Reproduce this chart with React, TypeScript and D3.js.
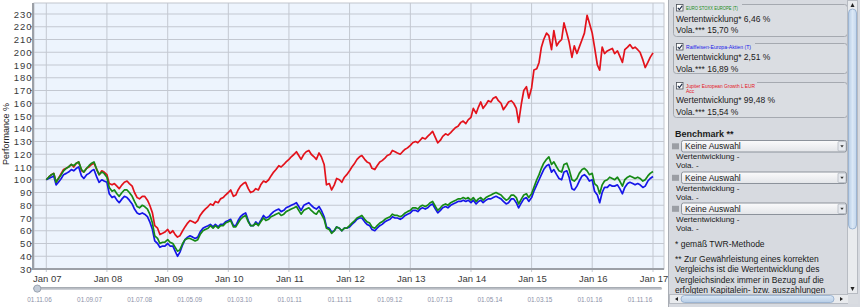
import React from 'react';
import * as d3 from 'd3';

// ---------- DATA ----------
// Semi-monthly observations (1st and 15th of each month), Jan 2007 .. Jan 2017
const obsCount = 241;
const obsDates: Date[] = d3.range(obsCount).map(
  (i) => new Date(2007, Math.floor(i / 2), i % 2 === 0 ? 1 : 15)
);

// Jupiter European Growth L EUR Acc (red)
const jupiterValues: number[] = [
  100, 102, 104, 105, 98, 101, 105, 108, 109, 110, 112, 110, 113, 114, 107, 106, 109, 110, 112, 113, 108, 104, 107, 106,
  104, 97, 96, 97, 95, 93, 96, 98, 99, 97, 95, 90, 86, 85, 87, 87, 84, 80, 74, 64, 62, 57, 58, 59,
  61, 58, 60, 57, 55, 56, 60, 63, 66, 68, 67, 66, 68, 72, 75, 77, 79, 81, 80, 83, 82, 85, 86, 88,
  90, 92, 87, 88, 92, 95, 97, 98, 93, 90, 91, 93, 92, 96, 99, 98, 100, 103, 106, 108, 111, 110, 112, 114,
  116, 118, 120, 122, 119, 116, 120, 122, 123, 120, 118, 116, 121, 118, 112, 96, 97, 92, 96, 101, 100, 98, 102, 104,
  107, 110, 113, 116, 118, 119, 116, 114, 113, 109, 108, 111, 114, 115, 117, 119, 120, 123, 122, 121, 120, 122, 124, 125,
  127, 129, 130, 129, 131, 133, 132, 134, 136, 138, 133, 129, 131, 134, 136, 135, 137, 139, 141, 142, 145, 146, 144, 147,
  149, 156, 152, 157, 161, 156, 159, 162, 161, 164, 165, 162, 160, 155, 158, 161, 162, 160, 156, 145, 160, 170, 173, 164,
  172, 186, 187, 192, 204, 210, 215, 213, 202, 217, 205, 208, 210, 223, 215, 208, 196, 205, 199, 204, 210, 215, 229, 223,
  215, 204, 190, 186, 204, 199, 201, 202, 203, 199, 201, 197, 192, 202, 204, 206, 203, 204, 202, 200, 194, 188, 192, 196,
  199.5,
];

// EURO STOXX EUROPE (T) (green)
const euroStoxxValues: number[] = [
  100, 102, 104, 105, 98, 101, 104, 107, 109, 110, 112, 111, 113, 114, 108, 106, 109, 111, 113, 114, 108, 104, 106, 105,
  102, 94, 91, 92, 89, 87, 90, 92, 92, 90, 87, 83, 79, 78, 80, 79, 77, 73, 66, 56, 54, 50, 51, 51,
  53, 51, 50, 47, 44, 45, 50, 53, 54, 54, 53, 52, 53, 57, 60, 61, 62, 64, 62, 64, 62, 64, 64, 66,
  67, 68, 63, 63, 66, 69, 71, 72, 67, 64, 64, 66, 64, 67, 70, 68, 69, 71, 72, 73, 74, 72, 73, 75,
  76, 77, 78, 79, 76, 73, 76, 77, 78, 76, 74, 73, 76, 73, 69, 62, 61, 58, 60, 63, 62, 60, 62, 62,
  64, 66, 68, 70, 71, 72, 69, 67, 66, 63, 62, 64, 66, 67, 69, 70, 71, 73, 72, 72, 71, 72, 74, 75,
  76, 78, 78, 77, 79, 80, 79, 80, 82, 83, 79, 76, 78, 80, 81, 80, 82, 83, 84, 85, 85, 86, 85, 86,
  84, 86, 83, 85, 86, 84, 86, 87, 88, 89, 90, 89, 88, 86, 84, 85, 88, 88, 86, 81, 85, 88, 89, 86,
  89, 94, 100, 104, 109, 113, 116, 118, 112, 114, 110, 107, 106, 112, 113, 108, 100, 99, 101, 105, 108, 109, 107, 104,
  105, 97, 95, 89, 96, 99, 100, 102, 101, 100, 102, 99, 95, 100, 102, 103, 102, 101, 102, 101, 99, 100, 103, 105,
  106.5,
];

// Raiffeisen-Europa-Aktien (T) (blue)
const raiffeisenValues: number[] = [
  100, 101, 102, 103, 96, 98, 101, 104, 105, 106, 108, 107, 109, 110, 103, 101, 104, 105, 107, 108, 102, 98, 100, 99,
  98, 89, 86, 87, 84, 82, 85, 87, 86, 84, 81, 77, 74, 73, 74, 73, 71, 67, 61, 52, 50, 47, 48, 48,
  50, 48, 48, 44, 40, 43, 49, 53, 55, 56, 55, 54, 55, 59, 62, 63, 64, 65, 63, 65, 63, 65, 65, 67,
  68, 69, 64, 64, 68, 71, 73, 74, 68, 64, 64, 67, 65, 68, 72, 70, 71, 73, 75, 76, 77, 75, 76, 78,
  79, 80, 81, 82, 79, 76, 80, 81, 82, 80, 78, 77, 79, 76, 71, 63, 62, 59, 60, 63, 62, 60, 62, 62,
  63, 65, 67, 69, 70, 70, 67, 65, 64, 61, 60, 62, 64, 65, 67, 68, 69, 71, 70, 70, 69, 70, 72, 73,
  74, 76, 76, 75, 77, 78, 77, 78, 80, 81, 77, 74, 76, 78, 79, 78, 80, 81, 82, 83, 83, 84, 83, 84,
  82, 84, 81, 83, 84, 82, 84, 85, 85, 86, 87, 86, 85, 83, 81, 82, 85, 85, 82, 78, 82, 85, 86, 83,
  86, 91, 96, 100, 104, 108, 111, 112, 106, 108, 104, 101, 100, 106, 107, 102, 93, 92, 95, 99, 103, 104, 102, 99,
  100, 91, 88, 82, 90, 94, 94, 96, 95, 95, 96, 93, 89, 94, 97, 98, 97, 96, 97, 96, 94, 95, 99, 101,
  102.5,
];

const yTickValues: number[] = [30, 40, 50, 60, 70, 80, 90, 100, 110, 120, 130, 140, 150, 160, 170, 180, 190, 200, 210, 220, 230];
const xTickYears: number[] = [2007, 2008, 2009, 2010, 2011, 2012, 2013, 2014, 2015, 2016, 2017];
const sliderLabels: string[] = [
  '01.11.06', '01.09.07', '01.07.08', '01.05.09', '01.03.10', '01.01.11', '01.11.11',
  '01.09.12', '01.07.13', '01.05.14', '01.03.15', '01.01.16', '01.11.16',
];

const fundNames: string[] = ['EURO STOXX EUROPE (T)', 'Raiffeisen-Europa-Aktien (T)', 'Jupiter European Growth L EUR'];
const fundPerf: string[] = ['6,46', '2,51', '99,48'];
const fundVola: string[] = ['15,70', '16,89', '15,54'];
const footnoteLines: string[] = [
  '** Zur Gewährleistung eines korrekten',
  'Vergleichs ist die Wertentwicklung des',
  'Vergleichsindex immer in Bezug auf die',
  'erfolgten Kapitalein- bzw. auszahlungen',
];

const RED = '#e3121b';
const GREEN = '#168a16';
const BLUE = '#1616e8';
const FONT = '"Liberation Sans", Arial, sans-serif';

export default function App() {
  const W = 860;
  const H = 307;
  const plot = { left: 34, top: 3, right: 664, bottom: 269 };

  const x = d3.scaleTime().domain([new Date(2007, 0, 1), new Date(2017, 0, 1)]).range([46.3, 653]);
  const y = d3.scaleLinear().domain([30, 230]).range([269, 14]);
  const sliderX = d3.scaleLinear().domain([0, sliderLabels.length - 1]).range([39.5, 640]);

  const line = d3
    .line<number>()
    .x((_, i) => x(obsDates[i]))
    .y((v) => y(v));

  const series = [
    { values: jupiterValues, color: RED },
    { values: raiffeisenValues, color: BLUE },
    { values: euroStoxxValues, color: GREEN },
  ];

  const gridColor = '#c3c8d1';
  const panelBg = '#d7dae0';

  // fund boxes geometry
  const boxes = [
    { top: 4, bottom: 36, color: GREEN, legendEnd: 742, titleLen: 52, perfY: 21.5, volaY: 33 },
    { top: 43, bottom: 73, color: BLUE, legendEnd: 755, titleLen: 65, perfY: 60, volaY: 71.5 },
    { top: 82, bottom: 117, color: RED, legendEnd: 757, titleLen: 69, perfY: 103.3, volaY: 115 },
  ];
  const dropdowns = [140, 171.5, 202.5];
  const benchTexts = [
    [159.3, 168.2],
    [190.8, 199.7],
    [221.8, 230.7],
  ];

  return (
    <svg
      width={W}
      height={H}
      style={{ position: 'absolute', left: 0, top: 0, display: 'block', fontFamily: FONT }}
    >
      <defs>
        <clipPath id="plotClip">
          <rect x={plot.left} y={plot.top} width={plot.right - plot.left} height={plot.bottom - plot.top} />
        </clipPath>
        <clipPath id="panelClip">
          <rect x={669} y={0} width={178} height={294} />
        </clipPath>
        <linearGradient id="ddGrad" x1="0" y1="0" x2="0" y2="1">
          <stop offset="0" stopColor="#fbfbfc" />
          <stop offset="1" stopColor="#e3e5e9" />
        </linearGradient>
        <linearGradient id="thumbV" x1="0" y1="0" x2="1" y2="0">
          <stop offset="0" stopColor="#b7cde6" />
          <stop offset="0.5" stopColor="#dbe8f6" />
          <stop offset="1" stopColor="#c3d6ec" />
        </linearGradient>
        <linearGradient id="thumbH" x1="0" y1="0" x2="0" y2="1">
          <stop offset="0" stopColor="#dbe8f6" />
          <stop offset="1" stopColor="#b7cde6" />
        </linearGradient>
        <linearGradient id="trackGrad" x1="0" y1="0" x2="0" y2="1">
          <stop offset="0" stopColor="#9ea3ab" />
          <stop offset="1" stopColor="#d5d8dd" />
        </linearGradient>
      </defs>

      <rect x={0} y={0} width={W} height={H} fill="#ffffff" />

      {/* plot background */}
      <rect x={plot.left} y={plot.top} width={plot.right - plot.left} height={plot.bottom - plot.top} fill="#edf4fd" />

      {/* horizontal grid */}
      {yTickValues.map((v) => (
        <line key={'hg' + v} x1={plot.left} x2={plot.right} y1={y(v)} y2={y(v)} stroke={gridColor} strokeWidth={1} />
      ))}
      {/* vertical grid */}
      {xTickYears.map((yr) => (
        <line
          key={'vg' + yr}
          x1={x(new Date(yr, 0, 1))}
          x2={x(new Date(yr, 0, 1))}
          y1={plot.top}
          y2={plot.bottom + 3}
          stroke={gridColor}
          strokeWidth={1}
        />
      ))}

      {/* frame */}
      <rect
        x={plot.left}
        y={plot.top}
        width={plot.right - plot.left}
        height={plot.bottom - plot.top}
        fill="none"
        stroke="#c2c6cd"
        strokeWidth={1}
      />
      <line x1={plot.left - 1} x2={plot.left - 1} y1={plot.top} y2={plot.bottom + 1} stroke="#9ca0a7" strokeWidth={2} />
      <line x1={plot.left - 1} x2={plot.right} y1={plot.bottom} y2={plot.bottom} stroke="#9ca0a7" strokeWidth={2} />
      {yTickValues.map((v) => (
        <line key={'yt' + v} x1={plot.left - 4} x2={plot.left - 2} y1={y(v)} y2={y(v)} stroke="#888" strokeWidth={1} />
      ))}

      {/* series */}
      <g clipPath="url(#plotClip)">
        {series.map((s, i) => (
          <path
            key={i}
            d={line(s.values) || ''}
            fill="none"
            stroke={s.color}
            strokeWidth={1.7}
            strokeLinejoin="round"
          />
        ))}
      </g>

      {/* y tick labels */}
      {yTickValues.map((v) => (
        <text
          key={'yl' + v}
          x={32.5}
          y={y(v) + 3.5}
          textAnchor="end"
          fontSize={9.5}
          letterSpacing={1}
          fill="#3a3a3a"
        >
          {v}
        </text>
      ))}
      <text transform={`translate(9,134) rotate(-90)`} textAnchor="middle" fontSize={9} fill="#222">
        Performance %
      </text>

      {/* x tick labels */}
      {xTickYears.map((yr) => (
        <text
          key={'xl' + yr}
          x={x(new Date(yr, 0, 1)) + 1}
          y={282}
          textAnchor="middle"
          fontSize={9.5}
          fill="#3a3a3a"
        >
          {'Jan ' + String(yr).slice(2)}
        </text>
      ))}

      {/* slider */}
      <rect x={33} y={287} width={629} height={3} rx={1.5} fill="url(#trackGrad)" />
      <circle cx={37.3} cy={288.6} r={3.6} fill="#c3ccd8" stroke="#8e97a4" strokeWidth={0.8} />
      {sliderLabels.map((lbl, i) => (
        <text key={lbl} x={sliderX(i)} y={301.5} textAnchor="middle" fontSize={6.4} fill="#8c91a8">
          {lbl}
        </text>
      ))}

      {/* ---------- right panel ---------- */}
      <rect x={668} y={0} width={192} height={H} fill={panelBg} />
      <line x1={668.5} x2={668.5} y1={0} y2={H} stroke="#a9adb4" />
      <g clipPath="url(#panelClip)" fontSize={8.5} fill="#1a1a1a">
        {boxes.map((b, i) => (
          <g key={'box' + i}>
            <rect
              x={673.5}
              y={b.top + 0.5}
              width={174}
              height={b.bottom - b.top}
              rx={3}
              fill="#dadde2"
              stroke="#a5a9b0"
            />
            <rect x={672} y={b.top - 1} width={b.legendEnd - 672} height={4} fill={panelBg} />
            <rect x={676.5} y={b.top + 0.5} width={6.5} height={6.5} fill="#ffffff" stroke="#4a4f57" strokeWidth={0.8} />
            <path
              d={`M${677.8},${b.top + 3.8} L${679.4},${b.top + 5.6} L${682.2},${b.top + 1.8}`}
              fill="none"
              stroke="#1b2a44"
              strokeWidth={1.1}
            />
            <text
              x={686}
              y={b.top + 5.5}
              fontSize={5}
              fill={b.color}
              textLength={b.titleLen}
              lengthAdjust="spacingAndGlyphs"
            >
              {fundNames[i]}
            </text>
            {i === 2 && (
              <text x={686} y={b.top + 11} fontSize={5} fill={b.color}>
                Acc
              </text>
            )}
            <text x={676} y={b.perfY}>{`Wertentwicklung* ${fundPerf[i]} %`}</text>
            <text x={676} y={b.volaY}>{`Vola.*** ${fundVola[i]} %`}</text>
          </g>
        ))}

        <text x={675} y={136.5} fontSize={9} fontWeight="bold">
          Benchmark **
        </text>

        {dropdowns.map((dy, i) => (
          <g key={'dd' + i}>
            <rect x={672} y={dy + 3.3} width={7} height={6} fill="#9b9ea4" />
            <rect x={681.5} y={dy + 0.5} width={165} height={11.5} rx={2} fill="url(#ddGrad)" stroke="#8c929b" />
            <rect x={838} y={dy + 1.5} width={8} height={9.5} rx={1} fill="#e7eaef" stroke="#a3a9b2" strokeWidth={0.6} />
            <path d={`M${840.3},${dy + 5.3} L${843.7},${dy + 5.3} L${842},${dy + 7.6} Z`} fill="#333" />
            <text x={685} y={dy + 9.3}>Keine Auswahl</text>
            <text x={676} y={benchTexts[i][0]} fontSize={8}>Wertentwicklung -</text>
            <text x={676} y={benchTexts[i][1]} fontSize={8}>Vola. -</text>
          </g>
        ))}

        <text x={675} y={246.5}>* gemäß TWR-Methode</text>
        {footnoteLines.map((t, i) => (
          <text key={'fn' + i} x={675} y={262.3 + i * 10.1}>
            {t}
          </text>
        ))}
      </g>

      {/* vertical scrollbar */}
      <rect x={847.5} y={0.5} width={10} height={293} fill="#e9ebee" stroke="#b7bbc2" />
      <path d="M850.5,7 L854.5,7 L852.5,3 Z" fill="#222" />
      <rect x={848.5} y={9} width={8} height={220} rx={4} fill="url(#thumbV)" stroke="#8eaacb" strokeWidth={0.8} />
      <path d="M850.5,287 L854.5,287 L852.5,291 Z" fill="#222" />

      {/* horizontal scrollbar */}
      <rect x={669.5} y={294.5} width={188} height={9} fill="#e9ebee" stroke="#b7bbc2" />
      <path d="M675,299 L678,297 L678,301 Z" fill="#222" />
      <rect x={681} y={295.5} width={153} height={7} rx={3.5} fill="url(#thumbH)" stroke="#8eaacb" strokeWidth={0.8} />
      <path d="M843,299 L840,297 L840,301 Z" fill="#222" />
      <rect x={848} y={294} width={10} height={10} fill="#d9dce1" />
    </svg>
  );
}
